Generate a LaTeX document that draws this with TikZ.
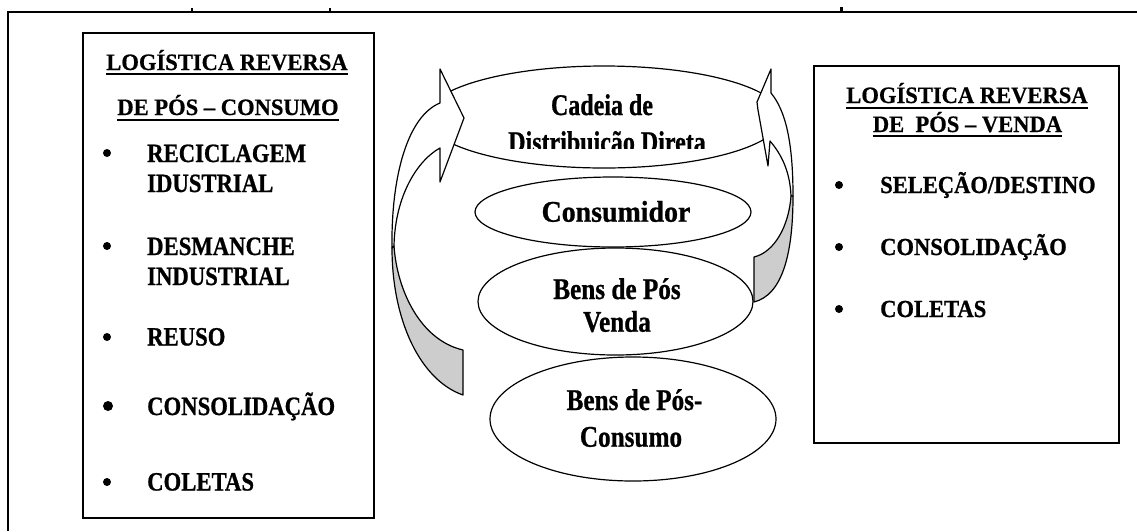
\documentclass[tikz,border=0pt]{standalone}
\usepackage{fontspec}
\setmainfont{Liberation Serif}
\newfontfamily\ftitle[FakeStretch=0.96,FakeBold=0.6]{Liberation Serif}
\newfontfamily\fitemL[FakeStretch=0.86,FakeBold=0.8]{Liberation Serif}
\newfontfamily\fitemR[FakeStretch=0.92,FakeBold=0.8]{Liberation Serif}
\newfontfamily\fcad[FakeStretch=0.80,FakeBold=0.8]{Liberation Serif}
\newfontfamily\fcons[FakeStretch=0.93,FakeBold=0.8]{Liberation Serif}
\newfontfamily\fbens[FakeStretch=0.84,FakeBold=0.8]{Liberation Serif}
\usetikzlibrary{shapes.geometric}
\definecolor{bandgray}{RGB}{205,205,205}
\tikzset{
  frame/.style={line width=1.2pt, black},
  listbox/.style={draw=black, line width=2pt},
  ell/.style={draw=black, line width=1.2pt, ellipse, inner sep=0pt},
  band/.style={draw=black, line width=1.2pt, line join=round},
  ttl/.style={anchor=base, inner sep=0pt, font=\ftitle\bfseries\fontsize{23.5}{26}\selectfont},
  itL/.style={anchor=base west, inner sep=0pt, font=\fitemL\bfseries\fontsize{26.4}{30}\selectfont},
  itR/.style={anchor=base west, inner sep=0pt, font=\fitemR\bfseries\fontsize{24.5}{28}\selectfont},
  bul/.style={circle, fill=black, inner sep=0pt, minimum size=8pt},
  uline/.style={line width=2pt},
  ctext/.style={anchor=base, inner sep=0pt},
}
\begin{document}
\begin{tikzpicture}[x=1pt, y=-1pt]
\useasboundingbox (0,0) rectangle (1137,531);
% outer frame remnants
\draw[frame] (8,531) coordinate (fb) -- (8,12) coordinate (fc) -- (1137,12) coordinate (fr);
\fill (191,8) rectangle (193,11);
\fill (329,8) rectangle (331,11);
\fill (840,7) rectangle (843,11);

% left box
\draw[listbox] (83,33) rectangle (374,518);
\node[ttl] (lt1) at (227,70) {LOGÍSTICA REVERSA};
\node[ttl] (lt2) at (228,115) {DE PÓS – CONSUMO};
\draw[uline] ([yshift=-3.5pt]lt1.base west) -- ([yshift=-3.5pt]lt1.base east);
\draw[uline] ([yshift=-4.5pt]lt2.base west) -- ([yshift=-4.5pt]lt2.base east);
\node[bul] (lb1) at (107,153) {};
\node[itL] (li1a) at (147,162) {RECICLAGEM};
\node[itL] (li1b) at (147,192) {IDUSTRIAL};
\node[bul] (lb2) at (107,246) {};
\node[itL] (li2a) at (147,255) {DESMANCHE};
\node[itL] (li2b) at (147,285) {INDUSTRIAL};
\node[bul] (lb3) at (107,337) {};
\node[itL] (li3) at (147,345.5) {REUSO};
\node[bul, minimum size=10pt] (lb4) at (108,406) {};
\node[itL] (li4) at (147,415) {CONSOLIDAÇÃO};
\node[bul] (lb5) at (107,482) {};
\node[itL] (li5) at (147,490.5) {COLETAS};

% right box
\draw[listbox] (814,66) rectangle (1119,443);
\node[ttl] (rt1) at (967,103) {LOGÍSTICA REVERSA};
\node[ttl] (rt2) at (967.5,132) {DE\ \ PÓS – VENDA};
\draw[uline] ([yshift=-5pt]rt1.base west) -- ([yshift=-5pt]rt1.base east);
\draw[uline] ([yshift=-4pt]rt2.base west) -- ([yshift=-4pt]rt2.base east);
\node[bul] (rb1) at (839,185) {};
\node[itR] (ri1) at (880,193) {SELEÇÃO/DESTINO};
\node[bul] (rb2) at (839,247) {};
\node[itR] (ri2) at (880,255) {CONSOLIDAÇÃO};
\node[bul] (rb3) at (839,309) {};
\node[itR] (ri3) at (880,317) {COLETAS};

% ellipses
\begin{scope}
\clip (441,40) rectangle (769,200);
\node[ell, minimum width=356pt, minimum height=102pt] (cad) at (604,117) {};
\end{scope}
\node[ell, minimum width=276pt, minimum height=70pt] (cons) at (613,212) {};
\node[ell, minimum width=275pt, minimum height=107pt] (bpv) at (615.5,301.5) {};
\node[ell, minimum width=286pt, minimum height=124pt] (bpc) at (633,419) {};

\node[ctext, font=\fcad\bfseries\fontsize{30}{34}\selectfont] (cad1) at (602,115) {Cadeia de};
\begin{scope}
\clip (420,60) rectangle (800,148.3);
\node[ctext, font=\fcad\bfseries\fontsize{30}{34}\selectfont] (cad2) at (607,152) {Distribuição Direta};
\end{scope}
\node[ctext, font=\fcons\bfseries\fontsize{30}{34}\selectfont] (cons1) at (616,221.7) {Consumidor};
\node[ctext, font=\fbens\bfseries\fontsize{30}{34}\selectfont] (bpv1) at (617,299) {Bens de Pós};
\node[ctext, font=\fbens\bfseries\fontsize{30}{34}\selectfont] (bpv2) at (617,331.7) {Venda};
\node[ctext, font=\fbens\bfseries\fontsize{30}{34}\selectfont] (bpc1) at (634.5,410) {Bens de Pós-};
\node[ctext, font=\fbens\bfseries\fontsize{30}{34}\selectfont] (bpc2) at (631,446.7) {Consumo};

% left curved arrow
\draw[band, fill=bandgray] (392,248) .. controls (392,320) and (420,380) .. (463,395)
  -- (463,350) .. controls (420,340) and (397,290) .. (394,246) -- cycle;
\draw[band, fill=white] (440,103) -- (440,69) -- (464,118) -- (440,182) -- (440,148)
  .. controls (418,160) and (395,195) .. (394,246)
  -- (392,248) .. controls (391,175) and (408,116) .. (440,103) -- cycle;

% right curved arrow
\draw[band, fill=bandgray] (793,196) .. controls (793,255) and (782,295) .. (754,302)
  -- (754,257) .. controls (775,252) and (789,225) .. (791,196) -- cycle;
\draw[band, fill=white] (771,93) -- (771,69) -- (757,102) -- (758,110) -- (768,166) -- (770,141)
  .. controls (782,155) and (790,172) .. (791,196)
  -- (793,196) .. controls (793,140) and (785,110) .. (771,93) -- cycle;
\end{tikzpicture}
\end{document}
